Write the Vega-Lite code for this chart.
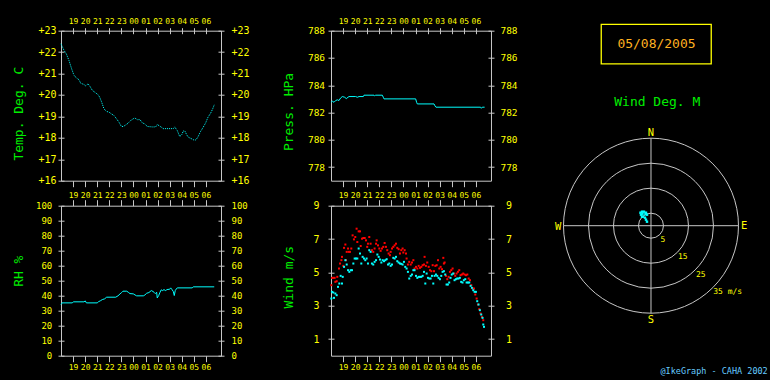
{
"$schema":"https://vega.github.io/schema/vega-lite/v6.json",
"background":"#000000",
"padding":{"left":11,"top":16.7,"right":3.5,"bottom":5.5},
"autosize":{"type":"pad"},
"columns":3,
"spacing":{"row":25,"column":110},
"bounds":"flush",
"config":{
 "view":{"stroke":"#c8c8c8","strokeWidth":1},
 "font":"DejaVu Sans Mono",
 "axis":{"domain":false,"grid":false,"tickColor":"#c8c8c8","tickWidth":1,"tickSize":6,"labelColor":"#ffff00","labelFont":"DejaVu Sans Mono","labelOverlap":false,"labelFlush":false,"labelBound":false,"titleColor":"#00ee00","titleFont":"DejaVu Sans Mono","titleFontSize":13,"titleFontWeight":"normal"}
},
"concat":[
{
 "width":160,"height":150,
 "data":{"values":[{"t":0,"T":22.39},{"t":0.25,"T":22.08},{"t":0.44,"T":21.92},{"t":0.66,"T":21.61},{"t":0.88,"T":21.22},{"t":1.08,"T":20.91},{"t":1.3,"T":20.79},{"t":1.49,"T":20.71},{"t":1.63,"T":20.55},{"t":1.9,"T":20.49},{"t":2.04,"T":20.43},{"t":2.24,"T":20.52},{"t":2.4,"T":20.4},{"t":2.6,"T":20.21},{"t":2.87,"T":20.1},{"t":3.09,"T":20.0},{"t":3.2,"T":19.9},{"t":3.37,"T":19.66},{"t":3.56,"T":19.35},{"t":3.78,"T":19.23},{"t":3.97,"T":19.2},{"t":4.17,"T":19.12},{"t":4.39,"T":19.04},{"t":4.61,"T":18.88},{"t":4.8,"T":18.73},{"t":5.0,"T":18.53},{"t":5.16,"T":18.53},{"t":5.35,"T":18.6},{"t":5.55,"T":18.68},{"t":5.77,"T":18.81},{"t":5.96,"T":18.88},{"t":6.1,"T":18.93},{"t":6.32,"T":18.85},{"t":6.54,"T":18.85},{"t":6.73,"T":18.7},{"t":6.93,"T":18.65},{"t":7.15,"T":18.53},{"t":7.56,"T":18.51},{"t":7.84,"T":18.51},{"t":7.97,"T":18.62},{"t":8.2,"T":18.54},{"t":8.47,"T":18.43},{"t":8.94,"T":18.43},{"t":9.3,"T":18.43},{"t":9.41,"T":18.51},{"t":9.63,"T":18.34},{"t":9.83,"T":18.06},{"t":10.0,"T":18.15},{"t":10.13,"T":18.32},{"t":10.27,"T":18.31},{"t":10.4,"T":18.15},{"t":10.54,"T":18.03},{"t":10.73,"T":17.98},{"t":11.0,"T":17.9},{"t":11.16,"T":17.9},{"t":11.33,"T":18.03},{"t":11.55,"T":18.29},{"t":11.77,"T":18.49},{"t":11.98,"T":18.7},{"t":12.17,"T":18.96},{"t":12.39,"T":19.15},{"t":12.56,"T":19.35},{"t":12.69,"T":19.54}]},
 "layer":[
  {"mark":{"type":"line","color":"#00ffff","strokeWidth":1,"strokeDash":[1,1]},
   "encoding":{
    "x":{"field":"t","type":"quantitative","scale":{"domain":[0,13.25],"nice":false,"zero":false},"axis":{"orient":"top","offset":-3,"values":[1,2,3,4,5,6,7,8,9,10,11,12],"labelExpr":"datum.value < 6 ? '' + (datum.value + 18) : '0' + (datum.value - 6)","labelFontSize":8,"labelPadding":2.3,"title":null}},
    "y":{"field":"T","type":"quantitative","scale":{"domain":[16,23],"nice":false,"zero":false},"axis":{"orient":"left","offset":-3,"values":[16,17,18,19,20,21,22,23],"labelExpr":"'+' + datum.value","labelFontSize":10,"labelPadding":2,"title":"Temp. Deg. C","titleX":-46,"titleY":82.5,"titleAngle":-90,"titleAlign":"center","titleBaseline":"middle"}}}},
  {"mark":{"type":"point","opacity":0},
   "encoding":{
    "x":{"field":"t","type":"quantitative","scale":{"domain":[0,13.25],"nice":false,"zero":false},"axis":{"orient":"bottom","offset":0,"values":[1,2,3,4,5,6,7,8,9,10,11,12],"labelExpr":"datum.value < 6 ? '' + (datum.value + 18) : '0' + (datum.value - 6)","labelFontSize":8,"labelPadding":4.5,"title":null}},
    "y":{"field":"T","type":"quantitative","scale":{"domain":[16,23],"nice":false,"zero":false},"axis":{"orient":"right","offset":-3,"values":[16,17,18,19,20,21,22,23],"labelExpr":"'+' + datum.value","labelFontSize":10,"labelPadding":7,"title":null}}}}
 ],
 "resolve":{"axis":{"x":"independent","y":"independent"}}
},
{
 "width":160,"height":150,
 "data":{"values":[{"t":0,"P":782.75},{"t":0.11,"P":782.83},{"t":0.25,"P":782.75},{"t":0.39,"P":782.88},{"t":0.52,"P":782.93},{"t":0.66,"P":782.88},{"t":0.8,"P":783.07},{"t":0.94,"P":783.17},{"t":1.13,"P":783.12},{"t":1.27,"P":783.02},{"t":1.41,"P":783.12},{"t":1.49,"P":783.17},{"t":2.04,"P":783.17},{"t":2.18,"P":783.12},{"t":2.32,"P":783.17},{"t":2.68,"P":783.17},{"t":2.73,"P":783.27},{"t":3.56,"P":783.27},{"t":3.61,"P":783.22},{"t":3.7,"P":783.27},{"t":4.25,"P":783.27},{"t":4.33,"P":783.12},{"t":4.39,"P":783.0},{"t":7.01,"P":783.0},{"t":7.09,"P":782.75},{"t":7.15,"P":782.63},{"t":8.53,"P":782.63},{"t":8.61,"P":782.49},{"t":8.69,"P":782.39},{"t":12.39,"P":782.39},{"t":12.45,"P":782.31},{"t":12.53,"P":782.39},{"t":12.72,"P":782.39}]},
 "layer":[
  {"mark":{"type":"line","color":"#00ffff","strokeWidth":1},
   "encoding":{
    "x":{"field":"t","type":"quantitative","scale":{"domain":[0,13.25],"nice":false,"zero":false},"axis":{"orient":"top","offset":-3,"values":[1,2,3,4,5,6,7,8,9,10,11,12],"labelExpr":"datum.value < 6 ? '' + (datum.value + 18) : '0' + (datum.value - 6)","labelFontSize":8,"labelPadding":2.3,"title":null}},
    "y":{"field":"P","type":"quantitative","scale":{"domain":[777,788],"nice":false,"zero":false},"axis":{"orient":"left","offset":-3,"values":[778,780,782,784,786,788],"labelFontSize":9.5,"labelAlign":"center","labelPadding":12,"title":"Press. HPa","titleX":-46,"titleY":80.8,"titleAngle":-90,"titleAlign":"center","titleBaseline":"middle"}}}},
  {"mark":{"type":"point","opacity":0},
   "encoding":{
    "x":{"field":"t","type":"quantitative","scale":{"domain":[0,13.25],"nice":false,"zero":false},"axis":{"orient":"bottom","offset":0,"values":[1,2,3,4,5,6,7,8,9,10,11,12],"labelExpr":"datum.value < 6 ? '' + (datum.value + 18) : '0' + (datum.value - 6)","labelFontSize":8,"labelPadding":4.5,"title":null}},
    "y":{"field":"P","type":"quantitative","scale":{"domain":[777,788],"nice":false,"zero":false},"axis":{"orient":"right","offset":-3,"values":[778,780,782,784,786,788],"labelFontSize":9.5,"labelAlign":"center","labelPadding":14.5,"title":null}}}}
 ],
 "resolve":{"axis":{"x":"independent","y":"independent"}}
},
{
 "width":100,"height":150,
 "view":{"stroke":null},
 "encoding":{
  "x":{"field":"x","type":"quantitative","scale":{"domain":[-20,20],"nice":false,"zero":false},"axis":null},
  "y":{"field":"y","type":"quantitative","scale":{"domain":[0,60],"nice":false,"zero":false},"axis":null}
 },
 "layer":[
  {"data":{"values":[{"x":-19.9,"x2":24.1,"y":62.5,"y2":46.7}]},
   "mark":{"type":"rect","filled":false,"stroke":"#ffff00","strokeWidth":1.3},
   "encoding":{"x2":{"field":"x2"},"y2":{"field":"y2"}}},
  {"data":{"values":[{"x":2.2,"y":54.6,"label":"05/08/2005"}]},
   "mark":{"type":"text","color":"#ffb020","fontSize":13,"font":"DejaVu Sans Mono","align":"center","baseline":"middle"},
   "encoding":{"text":{"field":"label"}}},
  {"data":{"values":[{"x":2.5,"y":31.3,"label":"Wind Deg. M"}]},
   "mark":{"type":"text","color":"#00ee00","fontSize":13,"font":"DejaVu Sans Mono","align":"center","baseline":"middle"},
   "encoding":{"text":{"field":"label"}}}
 ]
},
{
 "width":160,"height":150,
 "data":{"values":[{"t":0,"RH":34.1},{"t":0.08,"RH":35.2},{"t":0.94,"RH":35.2},{"t":1.02,"RH":35.9},{"t":1.9,"RH":35.9},{"t":2.01,"RH":36.5},{"t":2.1,"RH":35.2},{"t":3.0,"RH":35.2},{"t":3.09,"RH":35.9},{"t":3.28,"RH":36.7},{"t":3.42,"RH":37.4},{"t":3.61,"RH":37.9},{"t":3.78,"RH":39.0},{"t":4.53,"RH":39.0},{"t":4.72,"RH":39.9},{"t":4.89,"RH":41.2},{"t":5.02,"RH":42.1},{"t":5.13,"RH":43.0},{"t":5.44,"RH":43.0},{"t":5.57,"RH":42.3},{"t":5.71,"RH":41.4},{"t":5.99,"RH":41.2},{"t":6.13,"RH":40.5},{"t":6.26,"RH":39.9},{"t":6.82,"RH":39.9},{"t":6.95,"RH":40.5},{"t":7.09,"RH":41.6},{"t":7.28,"RH":42.1},{"t":7.48,"RH":43.4},{"t":7.62,"RH":42.8},{"t":7.73,"RH":42.1},{"t":7.81,"RH":41.4},{"t":7.92,"RH":42.3},{"t":7.97,"RH":38.5},{"t":8.09,"RH":40.1},{"t":8.2,"RH":42.3},{"t":8.3,"RH":43.9},{"t":8.42,"RH":43.4},{"t":8.53,"RH":44.1},{"t":8.64,"RH":43.4},{"t":8.75,"RH":43.9},{"t":8.86,"RH":44.3},{"t":8.97,"RH":44.1},{"t":9.08,"RH":45.2},{"t":9.19,"RH":44.1},{"t":9.3,"RH":42.8},{"t":9.38,"RH":40.1},{"t":9.46,"RH":43.4},{"t":9.55,"RH":44.5},{"t":9.63,"RH":45.2},{"t":10.87,"RH":45.2},{"t":10.95,"RH":45.9},{"t":12.69,"RH":45.9}]},
 "layer":[
  {"mark":{"type":"line","color":"#00ffff","strokeWidth":1},
   "encoding":{
    "x":{"field":"t","type":"quantitative","scale":{"domain":[0,13.25],"nice":false,"zero":false},"axis":{"orient":"top","offset":0,"values":[1,2,3,4,5,6,7,8,9,10,11,12],"labels":false,"title":null}},
    "y":{"field":"RH","type":"quantitative","scale":{"domain":[0,100],"nice":false,"zero":false},"axis":{"orient":"left","offset":-3,"values":[0,10,20,30,40,50,60,70,80,90,100],"labelFontSize":9,"labelPadding":6.3,"title":"RH %","titleX":-46,"titleY":65,"titleAngle":-90,"titleAlign":"center","titleBaseline":"middle"}}}},
  {"mark":{"type":"point","opacity":0},
   "encoding":{
    "x":{"field":"t","type":"quantitative","scale":{"domain":[0,13.25],"nice":false,"zero":false},"axis":{"orient":"bottom","offset":0,"values":[1,2,3,4,5,6,7,8,9,10,11,12],"labelExpr":"datum.value < 6 ? '' + (datum.value + 18) : '0' + (datum.value - 6)","labelFontSize":8,"labelPadding":2.1,"title":null}},
    "y":{"field":"RH","type":"quantitative","scale":{"domain":[0,100],"nice":false,"zero":false},"axis":{"orient":"right","offset":-3,"values":[0,10,20,30,40,50,60,70,80,90,100],"labelFontSize":9,"labelPadding":7,"title":null}}}}
 ],
 "resolve":{"axis":{"x":"independent","y":"independent"}}
},
{
 "width":160,"height":150,
 "data":{"values":[
{"t":0.03,"v":4.23,"k":"gust"},{"t":0.08,"v":4.67,"k":"gust"},{"t":0.19,"v":4.67,"k":"gust"},{"t":0.3,"v":4.67,"k":"gust"},{"t":0.36,"v":4.43,"k":"gust"},{"t":0.47,"v":4.47,"k":"gust"},{"t":0.52,"v":4.73,"k":"gust"},{"t":0.66,"v":5.23,"k":"gust"},{"t":0.75,"v":5.53,"k":"gust"},{"t":0.86,"v":5.73,"k":"gust"},{"t":0.91,"v":5.93,"k":"gust"},{"t":1.02,"v":5.39,"k":"gust"},{"t":1.08,"v":6.47,"k":"gust"},{"t":1.19,"v":6.67,"k":"gust"},{"t":1.24,"v":5.73,"k":"gust"},{"t":1.3,"v":6.23,"k":"gust"},{"t":1.41,"v":6.43,"k":"gust"},{"t":1.46,"v":6.23,"k":"gust"},{"t":1.57,"v":6.23,"k":"gust"},{"t":1.68,"v":6.43,"k":"gust"},{"t":1.79,"v":7.22,"k":"gust"},{"t":1.9,"v":6.98,"k":"gust"},{"t":2.01,"v":7.12,"k":"gust"},{"t":2.12,"v":7.62,"k":"gust"},{"t":2.18,"v":6.82,"k":"gust"},{"t":2.29,"v":7.46,"k":"gust"},{"t":2.4,"v":7.46,"k":"gust"},{"t":2.46,"v":6.58,"k":"gust"},{"t":2.57,"v":7.02,"k":"gust"},{"t":2.68,"v":7.06,"k":"gust"},{"t":2.79,"v":7.06,"k":"gust"},{"t":2.9,"v":6.92,"k":"gust"},{"t":3.0,"v":6.53,"k":"gust"},{"t":3.06,"v":6.72,"k":"gust"},{"t":3.17,"v":7.12,"k":"gust"},{"t":3.28,"v":6.72,"k":"gust"},{"t":3.39,"v":6.33,"k":"gust"},{"t":3.5,"v":6.23,"k":"gust"},{"t":3.61,"v":6.43,"k":"gust"},{"t":3.73,"v":6.72,"k":"gust"},{"t":3.78,"v":6.92,"k":"gust"},{"t":3.89,"v":6.62,"k":"gust"},{"t":4.0,"v":6.43,"k":"gust"},{"t":4.11,"v":6.29,"k":"gust"},{"t":4.22,"v":6.43,"k":"gust"},{"t":4.33,"v":6.53,"k":"gust"},{"t":4.44,"v":6.76,"k":"gust"},{"t":4.55,"v":6.53,"k":"gust"},{"t":4.66,"v":6.33,"k":"gust"},{"t":4.77,"v":6.13,"k":"gust"},{"t":4.88,"v":6.03,"k":"gust"},{"t":4.94,"v":6.23,"k":"gust"},{"t":5.05,"v":6.43,"k":"gust"},{"t":5.16,"v":6.53,"k":"gust"},{"t":5.27,"v":6.62,"k":"gust"},{"t":5.38,"v":6.72,"k":"gust"},{"t":5.49,"v":6.47,"k":"gust"},{"t":5.6,"v":6.39,"k":"gust"},{"t":5.71,"v":6.13,"k":"gust"},{"t":5.82,"v":6.33,"k":"gust"},{"t":5.93,"v":6.43,"k":"gust"},{"t":5.99,"v":6.19,"k":"gust"},{"t":6.1,"v":6.33,"k":"gust"},{"t":6.21,"v":6.13,"k":"gust"},{"t":6.26,"v":5.83,"k":"gust"},{"t":6.37,"v":5.47,"k":"gust"},{"t":6.48,"v":5.63,"k":"gust"},{"t":6.6,"v":5.47,"k":"gust"},{"t":6.71,"v":5.59,"k":"gust"},{"t":6.82,"v":5.73,"k":"gust"},{"t":6.92,"v":5.23,"k":"gust"},{"t":7.04,"v":5.33,"k":"gust"},{"t":7.15,"v":5.23,"k":"gust"},{"t":7.26,"v":5.39,"k":"gust"},{"t":7.37,"v":5.27,"k":"gust"},{"t":7.48,"v":5.33,"k":"gust"},{"t":7.59,"v":5.43,"k":"gust"},{"t":7.7,"v":5.47,"k":"gust"},{"t":7.75,"v":5.93,"k":"gust"},{"t":7.86,"v":5.39,"k":"gust"},{"t":7.97,"v":5.59,"k":"gust"},{"t":8.09,"v":5.33,"k":"gust"},{"t":8.2,"v":5.13,"k":"gust"},{"t":8.31,"v":5.07,"k":"gust"},{"t":8.42,"v":5.43,"k":"gust"},{"t":8.53,"v":5.07,"k":"gust"},{"t":8.64,"v":5.39,"k":"gust"},{"t":8.75,"v":5.43,"k":"gust"},{"t":8.86,"v":5.73,"k":"gust"},{"t":8.97,"v":5.23,"k":"gust"},{"t":9.08,"v":5.33,"k":"gust"},{"t":9.19,"v":5.19,"k":"gust"},{"t":9.3,"v":5.87,"k":"gust"},{"t":9.35,"v":5.53,"k":"gust"},{"t":9.41,"v":5.59,"k":"gust"},{"t":9.52,"v":4.79,"k":"gust"},{"t":9.63,"v":4.59,"k":"gust"},{"t":9.74,"v":4.73,"k":"gust"},{"t":9.85,"v":5.03,"k":"gust"},{"t":9.96,"v":5.13,"k":"gust"},{"t":10.07,"v":5.23,"k":"gust"},{"t":10.18,"v":4.93,"k":"gust"},{"t":10.29,"v":4.79,"k":"gust"},{"t":10.4,"v":4.93,"k":"gust"},{"t":10.51,"v":5.03,"k":"gust"},{"t":10.62,"v":5.13,"k":"gust"},{"t":10.73,"v":4.83,"k":"gust"},{"t":10.84,"v":4.87,"k":"gust"},{"t":10.95,"v":4.93,"k":"gust"},{"t":11.06,"v":4.87,"k":"gust"},{"t":11.18,"v":4.83,"k":"gust"},{"t":11.29,"v":4.87,"k":"gust"},{"t":11.4,"v":4.63,"k":"gust"},{"t":11.51,"v":4.53,"k":"gust"},{"t":11.62,"v":4.23,"k":"gust"},{"t":11.73,"v":4.03,"k":"gust"},{"t":11.84,"v":4.03,"k":"gust"},{"t":11.95,"v":3.67,"k":"gust"},{"t":12.06,"v":3.43,"k":"gust"},{"t":12.17,"v":3.07,"k":"gust"},{"t":12.28,"v":2.79,"k":"gust"},{"t":12.39,"v":2.53,"k":"gust"},{"t":12.5,"v":2.33,"k":"gust"},{"t":12.61,"v":2.13,"k":"gust"},
{"t":0.03,"v":3.43,"k":"mean"},{"t":0.08,"v":3.83,"k":"mean"},{"t":0.19,"v":3.79,"k":"mean"},{"t":0.25,"v":3.47,"k":"mean"},{"t":0.36,"v":3.73,"k":"mean"},{"t":0.47,"v":3.63,"k":"mean"},{"t":0.58,"v":4.13,"k":"mean"},{"t":0.69,"v":4.33,"k":"mean"},{"t":0.8,"v":4.79,"k":"mean"},{"t":0.91,"v":4.33,"k":"mean"},{"t":0.97,"v":4.73,"k":"mean"},{"t":1.08,"v":5.33,"k":"mean"},{"t":1.19,"v":5.73,"k":"mean"},{"t":1.3,"v":5.47,"k":"mean"},{"t":1.41,"v":5.13,"k":"mean"},{"t":1.52,"v":5.03,"k":"mean"},{"t":1.63,"v":5.13,"k":"mean"},{"t":1.74,"v":5.13,"k":"mean"},{"t":1.85,"v":5.53,"k":"mean"},{"t":1.96,"v":5.83,"k":"mean"},{"t":2.07,"v":5.83,"k":"mean"},{"t":2.18,"v":5.83,"k":"mean"},{"t":2.29,"v":6.43,"k":"mean"},{"t":2.4,"v":6.13,"k":"mean"},{"t":2.51,"v":5.53,"k":"mean"},{"t":2.62,"v":5.93,"k":"mean"},{"t":2.73,"v":5.83,"k":"mean"},{"t":2.84,"v":5.73,"k":"mean"},{"t":2.95,"v":5.83,"k":"mean"},{"t":3.06,"v":5.53,"k":"mean"},{"t":3.17,"v":6.33,"k":"mean"},{"t":3.28,"v":6.23,"k":"mean"},{"t":3.39,"v":5.53,"k":"mean"},{"t":3.5,"v":5.47,"k":"mean"},{"t":3.61,"v":5.63,"k":"mean"},{"t":3.73,"v":5.73,"k":"mean"},{"t":3.84,"v":6.07,"k":"mean"},{"t":3.95,"v":5.93,"k":"mean"},{"t":4.06,"v":5.77,"k":"mean"},{"t":4.17,"v":5.59,"k":"mean"},{"t":4.28,"v":5.73,"k":"mean"},{"t":4.39,"v":5.67,"k":"mean"},{"t":4.5,"v":5.73,"k":"mean"},{"t":4.61,"v":5.79,"k":"mean"},{"t":4.72,"v":5.47,"k":"mean"},{"t":4.83,"v":5.53,"k":"mean"},{"t":4.94,"v":5.39,"k":"mean"},{"t":5.05,"v":5.47,"k":"mean"},{"t":5.16,"v":5.87,"k":"mean"},{"t":5.27,"v":5.83,"k":"mean"},{"t":5.38,"v":5.93,"k":"mean"},{"t":5.49,"v":5.67,"k":"mean"},{"t":5.6,"v":5.59,"k":"mean"},{"t":5.71,"v":5.53,"k":"mean"},{"t":5.82,"v":5.51,"k":"mean"},{"t":5.93,"v":5.47,"k":"mean"},{"t":6.04,"v":5.63,"k":"mean"},{"t":6.15,"v":5.33,"k":"mean"},{"t":6.26,"v":5.23,"k":"mean"},{"t":6.37,"v":5.03,"k":"mean"},{"t":6.48,"v":4.63,"k":"mean"},{"t":6.6,"v":4.79,"k":"mean"},{"t":6.71,"v":4.87,"k":"mean"},{"t":6.82,"v":5.13,"k":"mean"},{"t":6.92,"v":5.13,"k":"mean"},{"t":7.04,"v":4.79,"k":"mean"},{"t":7.15,"v":4.67,"k":"mean"},{"t":7.26,"v":4.73,"k":"mean"},{"t":7.37,"v":4.73,"k":"mean"},{"t":7.48,"v":4.73,"k":"mean"},{"t":7.59,"v":4.79,"k":"mean"},{"t":7.7,"v":5.03,"k":"mean"},{"t":7.81,"v":4.33,"k":"mean"},{"t":7.92,"v":4.93,"k":"mean"},{"t":8.03,"v":4.67,"k":"mean"},{"t":8.14,"v":4.63,"k":"mean"},{"t":8.25,"v":4.63,"k":"mean"},{"t":8.36,"v":4.79,"k":"mean"},{"t":8.47,"v":4.33,"k":"mean"},{"t":8.58,"v":4.79,"k":"mean"},{"t":8.69,"v":4.87,"k":"mean"},{"t":8.8,"v":4.79,"k":"mean"},{"t":8.91,"v":4.67,"k":"mean"},{"t":9.02,"v":4.59,"k":"mean"},{"t":9.13,"v":4.79,"k":"mean"},{"t":9.24,"v":5.03,"k":"mean"},{"t":9.35,"v":5.07,"k":"mean"},{"t":9.46,"v":4.87,"k":"mean"},{"t":9.57,"v":4.27,"k":"mean"},{"t":9.68,"v":4.27,"k":"mean"},{"t":9.79,"v":4.39,"k":"mean"},{"t":9.9,"v":4.67,"k":"mean"},{"t":10.0,"v":4.87,"k":"mean"},{"t":10.12,"v":4.93,"k":"mean"},{"t":10.23,"v":4.53,"k":"mean"},{"t":10.34,"v":4.59,"k":"mean"},{"t":10.45,"v":4.63,"k":"mean"},{"t":10.56,"v":4.63,"k":"mean"},{"t":10.67,"v":4.67,"k":"mean"},{"t":10.78,"v":4.43,"k":"mean"},{"t":10.89,"v":4.39,"k":"mean"},{"t":11.0,"v":4.53,"k":"mean"},{"t":11.12,"v":4.59,"k":"mean"},{"t":11.23,"v":4.39,"k":"mean"},{"t":11.34,"v":4.39,"k":"mean"},{"t":11.45,"v":4.39,"k":"mean"},{"t":11.56,"v":4.19,"k":"mean"},{"t":11.67,"v":4.07,"k":"mean"},{"t":11.78,"v":3.93,"k":"mean"},{"t":11.89,"v":3.83,"k":"mean"},{"t":12.0,"v":3.83,"k":"mean"},{"t":12.11,"v":3.27,"k":"mean"},{"t":12.22,"v":3.07,"k":"mean"},{"t":12.33,"v":2.73,"k":"mean"},{"t":12.44,"v":2.47,"k":"mean"},{"t":12.55,"v":2.27,"k":"mean"},{"t":12.61,"v":1.87,"k":"mean"},{"t":12.67,"v":1.73,"k":"mean"}
 ]},
 "layer":[
  {"mark":{"type":"square","size":4,"opacity":1},
   "encoding":{
    "x":{"field":"t","type":"quantitative","scale":{"domain":[0,13.25],"nice":false,"zero":false},"axis":{"orient":"top","offset":0,"values":[1,2,3,4,5,6,7,8,9,10,11,12],"labels":false,"title":null}},
    "y":{"field":"v","type":"quantitative","scale":{"domain":[0,9],"nice":false,"zero":false},"axis":{"orient":"left","offset":-3,"values":[1,3,5,7,9],"labelFontSize":10,"labelAlign":"center","labelPadding":12,"title":"Wind m/s","titleX":-46,"titleY":71,"titleAngle":-90,"titleAlign":"center","titleBaseline":"middle"}},
    "color":{"field":"k","type":"nominal","scale":{"domain":["gust","mean"],"range":["#ff0000","#00ffff"]},"legend":null}}},
  {"mark":{"type":"point","opacity":0},
   "encoding":{
    "x":{"field":"t","type":"quantitative","scale":{"domain":[0,13.25],"nice":false,"zero":false},"axis":{"orient":"bottom","offset":0,"values":[1,2,3,4,5,6,7,8,9,10,11,12],"labelExpr":"datum.value < 6 ? '' + (datum.value + 18) : '0' + (datum.value - 6)","labelFontSize":8,"labelPadding":2.1,"title":null}},
    "y":{"field":"v","type":"quantitative","scale":{"domain":[0,9],"nice":false,"zero":false},"axis":{"orient":"right","offset":-3,"values":[1,3,5,7,9],"labelFontSize":10,"labelAlign":"center","labelPadding":14.5,"title":null}}}}
 ],
 "resolve":{"axis":{"x":"independent","y":"independent"}}
},
{
 "width":100,"height":150,
 "view":{"stroke":null},
 "encoding":{
  "x":{"field":"x","type":"quantitative","scale":{"domain":[-20,20],"nice":false,"zero":false},"axis":null},
  "y":{"field":"y","type":"quantitative","scale":{"domain":[-52,8],"nice":false,"zero":false},"axis":null}
 },
 "layer":[
  {"data":{"values":[{"x":-35,"x2":35,"y":0,"y2":0},{"x":0,"x2":0,"y":-35,"y2":35}]},
   "mark":{"type":"rule","color":"#c8c8c8","strokeWidth":1},
   "encoding":{"x2":{"field":"x2"},"y2":{"field":"y2"}}},
  {"data":{"values":[{"x":0,"y":0,"r":5},{"x":0,"y":0,"r":15},{"x":0,"y":0,"r":25},{"x":0,"y":0,"r":35}]},
   "mark":{"type":"arc","filled":false,"stroke":"#c8c8c8","strokeWidth":1,"theta":0,"theta2":6.2832},
   "encoding":{"radius":{"field":"r","type":"quantitative","stack":null,"scale":{"type":"linear","domain":[0,35],"range":[0,87.5],"zero":true}}}},
  {"data":{"values":[{"x":-4.2,"y":5.2},{"x":-3.6,"y":5.6},{"x":-2.8,"y":5.6},{"x":-2.0,"y":5.2},{"x":-1.6,"y":4.4},{"x":-4.0,"y":4.4},{"x":-3.6,"y":3.6},{"x":-3.2,"y":3.6},{"x":-2.4,"y":3.2},{"x":-2.0,"y":2.4},{"x":-1.6,"y":1.6},{"x":-3.4,"y":4.8},{"x":-2.2,"y":4.6}]},
   "mark":{"type":"square","size":6,"opacity":1,"color":"#00ffff"}},
  {"data":{"values":[{"x":0,"y":37.1,"label":"N"},{"x":0,"y":-37.6,"label":"S"},{"x":-37.1,"y":-0.4,"label":"W"},{"x":37.3,"y":0,"label":"E"}]},
   "mark":{"type":"text","color":"#ffff00","fontSize":10.5,"font":"DejaVu Sans Mono","align":"center","baseline":"middle"},
   "encoding":{"text":{"field":"label"}}},
  {"data":{"values":[{"x":4.8,"y":-5.6,"label":"5"},{"x":12.7,"y":-12.4,"label":"15"},{"x":19.9,"y":-19.6,"label":"25"},{"x":30.7,"y":-26.4,"label":"35 m/s"}]},
   "mark":{"type":"text","color":"#ffff00","fontSize":8,"font":"DejaVu Sans Mono","align":"center","baseline":"middle"},
   "encoding":{"text":{"field":"label"}}},
  {"data":{"values":[{"x":46.7,"y":-58.28,"label":"@IkeGraph - CAHA 2002"}]},
   "mark":{"type":"text","color":"#66ccff","fontSize":8.5,"font":"DejaVu Sans Mono","align":"right","baseline":"middle"},
   "encoding":{"text":{"field":"label"}}}
 ]
}
]
}
